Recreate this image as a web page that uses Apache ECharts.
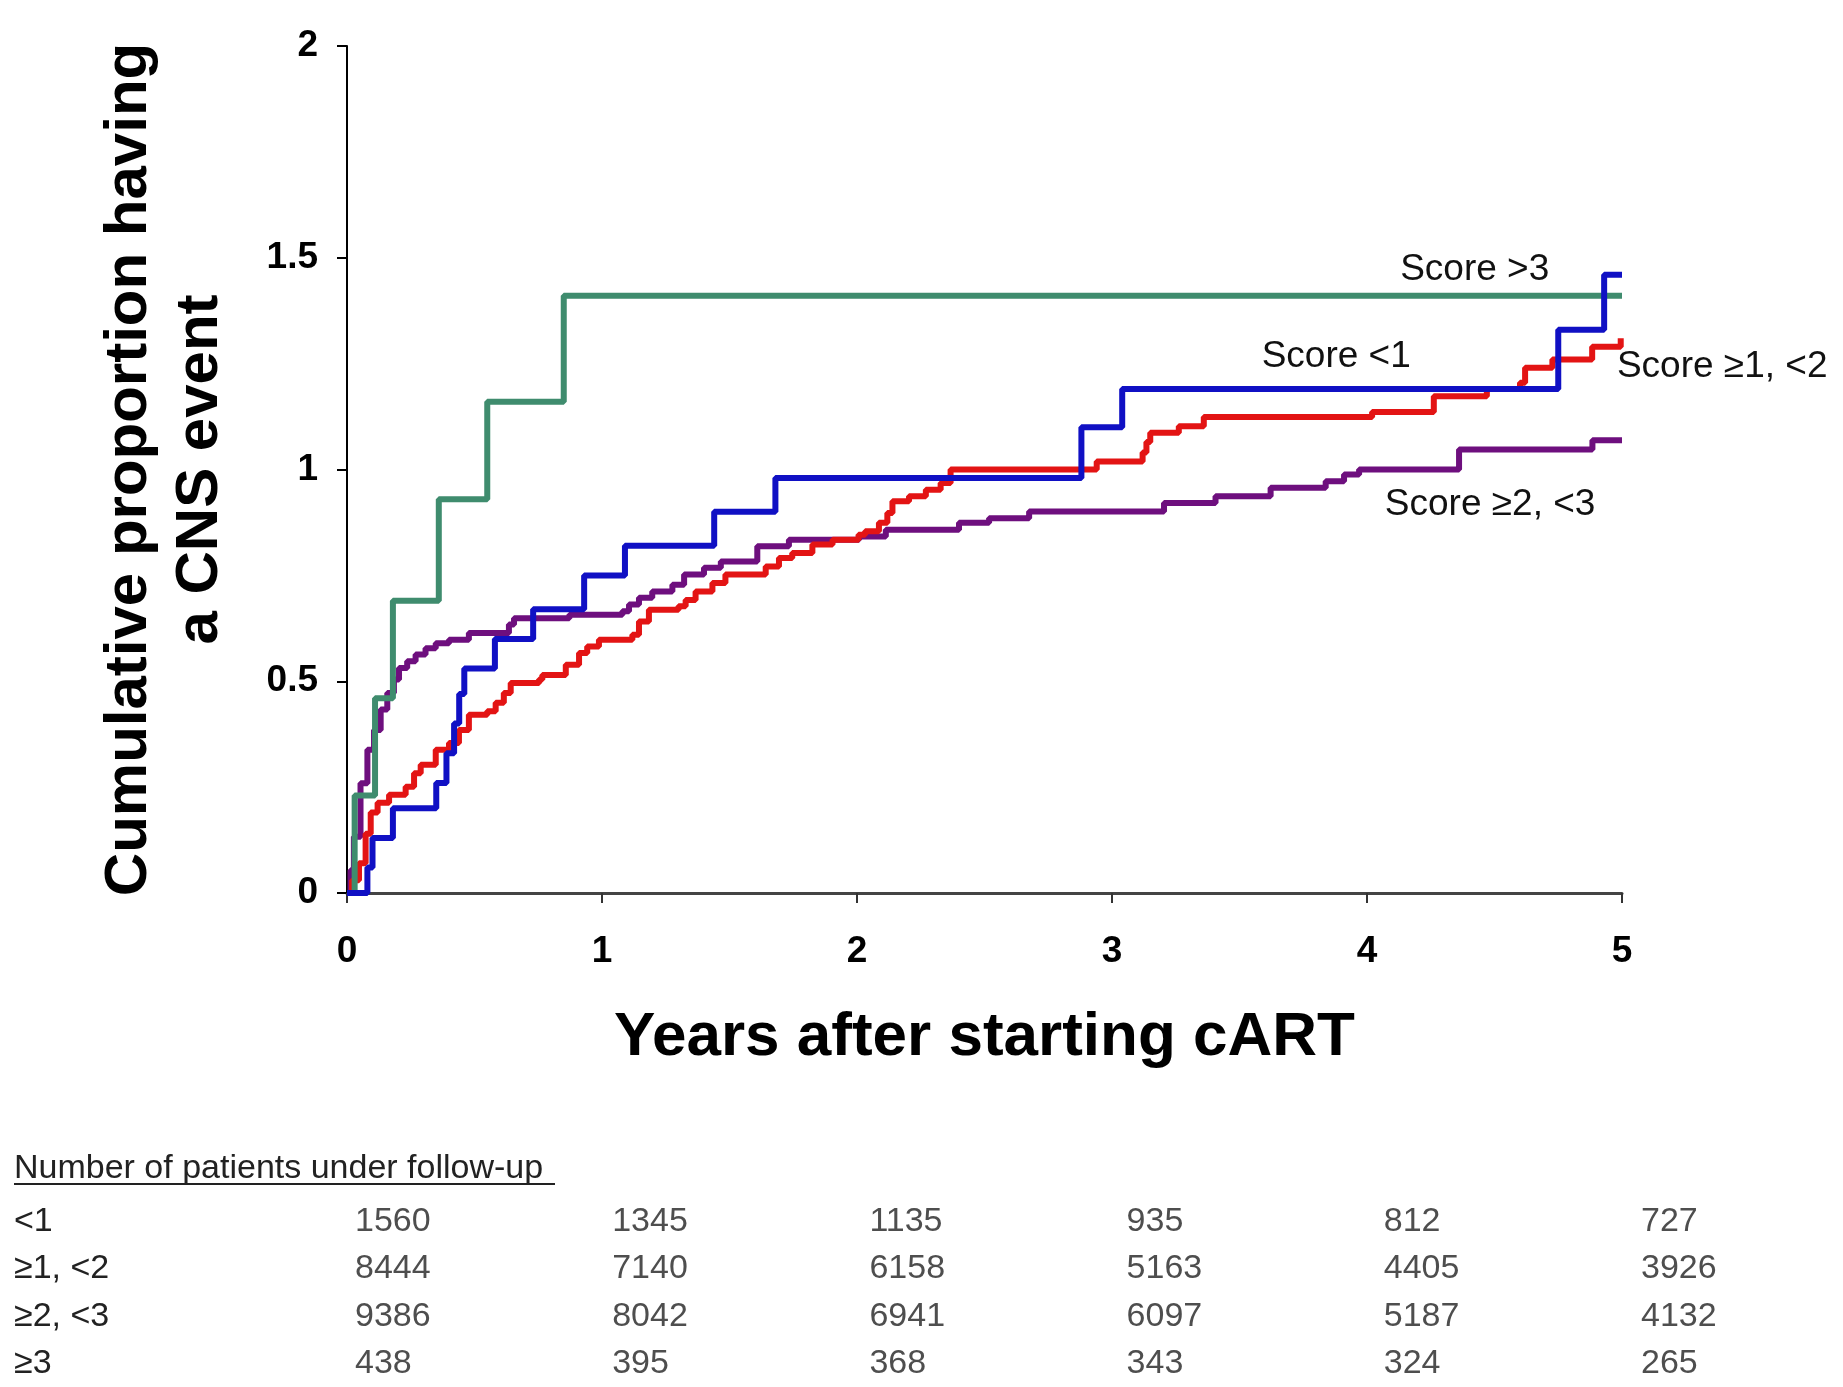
<!DOCTYPE html>
<html>
<head>
<meta charset="utf-8">
<script src="https://cdn.jsdelivr.net/npm/echarts@6/dist/echarts.min.js"></script>
<style>
  html, body { margin: 0; padding: 0; background: #fff; }
  #cns_chart { width: 1843px; height: 1387px; }
</style>
</head>
<body>
<div id="cns_chart"></div>
<script>
// cumulative proportion (%) over years, points are [year, value after step]
const scoreLt1 = [[0,0],[0.08,0.06],[0.10,0.13],[0.18,0.20],[0.35,0.26],[0.39,0.33],[0.42,0.40],[0.44,0.47],[0.46,0.53],[0.58,0.60],[0.73,0.67],[0.93,0.75],[1.09,0.82],[1.44,0.90],[1.68,0.98],[2.88,1.10],[3.04,1.19],[4.75,1.33],[4.93,1.46],[5.0,1.46]];
const score1to2 = [[0,0],[0.02,0.03],[0.047,0.07],[0.073,0.14],[0.093,0.19],[0.12,0.213],[0.165,0.232],[0.23,0.251],[0.263,0.283],[0.289,0.303],[0.348,0.338],[0.40,0.354],[0.439,0.385],[0.478,0.421],[0.55,0.429],[0.583,0.449],[0.615,0.472],[0.642,0.496],[0.753,0.504],[0.766,0.515],[0.858,0.539],[0.91,0.567],[0.942,0.582],[0.988,0.598],[1.119,0.61],[1.145,0.641],[1.184,0.669],[1.30,0.677],[1.328,0.692],[1.367,0.712],[1.433,0.732],[1.484,0.752],[1.642,0.771],[1.694,0.791],[1.746,0.803],[1.825,0.823],[1.904,0.834],[2.006,0.846],[2.032,0.854],[2.086,0.874],[2.119,0.897],[2.139,0.925],[2.204,0.937],[2.27,0.952],[2.328,0.968],[2.367,1.0],[2.94,1.019],[3.12,1.04],[3.135,1.065],[3.15,1.087],[3.262,1.102],[3.36,1.124],[4.02,1.136],[4.262,1.173],[4.47,1.19],[4.60,1.205],[4.62,1.24],[4.727,1.26],[4.883,1.29],[4.995,1.31]];
const score2to3 = [[0,0],[0.014,0.054],[0.027,0.133],[0.053,0.259],[0.08,0.338],[0.106,0.385],[0.132,0.433],[0.158,0.472],[0.184,0.504],[0.204,0.531],[0.236,0.547],[0.269,0.563],[0.308,0.578],[0.348,0.59],[0.40,0.598],[0.478,0.614],[0.635,0.634],[0.655,0.649],[0.872,0.657],[1.08,0.665],[1.106,0.681],[1.145,0.697],[1.197,0.712],[1.276,0.728],[1.322,0.752],[1.40,0.768],[1.466,0.783],[1.609,0.819],[1.733,0.834],[2.008,0.842],[2.113,0.858],[2.40,0.874],[2.518,0.885],[2.675,0.901],[3.204,0.921],[3.406,0.937],[3.622,0.957],[3.838,0.972],[3.91,0.988],[3.969,1.0],[4.361,1.047],[4.884,1.069],[5.0,1.069]];
const scoreGt3 = [[0,0],[0.03,0.23],[0.11,0.46],[0.18,0.69],[0.36,0.93],[0.55,1.16],[0.85,1.41],[5.0,1.41]];

// curve annotations: text and anchor (left edge, middle) in data units
const curveNames = ['Score <1', 'Score \u22651, <2', 'Score \u22652, <3', 'Score >3'];
const curveLabelAt = [[3.587,1.266],[4.98,1.242],[4.07,0.916],[4.13,1.471]];

// number of patients under follow-up
const tableYears = [0, 1, 2, 3, 4, 5];
const rowNames = ['<1', '\u22651, <2', '\u22652, <3', '\u22653'];
const atRiskLt1 = [1560, 1345, 1135, 935, 812, 727];
const atRisk1to2 = [8444, 7140, 6158, 5163, 4405, 3926];
const atRisk2to3 = [9386, 8042, 6941, 6097, 5187, 4132];
const atRiskGe3 = [438, 395, 368, 343, 324, 265];

const font = 'Liberation Sans, Arial, sans-serif';
const chart = echarts.init(document.getElementById('cns_chart'));

function curve(name, data, color, idx, z) {
	return {
		name: name,
		type: 'line',
		step: 'end',
		data: data,
		showSymbol: false,
		z: z,
		lineStyle: {color: color, width: 6},
		markPoint: {
			symbol: 'circle',
			symbolSize: 0,
			silent: true,
			data: [{
				coord: curveLabelAt[idx],
				label: {
					show: true, position: 'right', distance: 0,
					formatter: curveNames[idx],
					color: '#111', fontSize: 37, fontFamily: font
				}
			}]
		}
	};
}

const tableRows = [atRiskLt1, atRisk1to2, atRisk2to3, atRiskGe3];
const tableData = [];
tableRows.forEach((row, r) => {
	row.forEach((n, c) => tableData.push([tableYears[c], r, n]));
});

let option = {
	backgroundColor: '#fff',
	animation: false,
	grid: [
		{left: 347, right: 221, top: 46, bottom: 494},
		{left: 355, right: 202, top: 1198, height: 192}
	],
	xAxis: [
		{
			type: 'value', min: 0, max: 5, interval: 1,
			name: 'Years after starting cART',
			nameLocation: 'middle', nameGap: 114,
			nameTextStyle: {fontSize: 62, fontWeight: 'bold', color: '#000', fontFamily: font},
			axisLine: {lineStyle: {color: '#444', width: 3}},
			axisTick: {length: 10, lineStyle: {color: '#333', width: 2}},
			axisLabel: {margin: 40, fontSize: 37, fontWeight: 'bold', color: '#000', fontFamily: font},
			splitLine: {show: false}
		},
		{gridIndex: 1, type: 'value', min: 0, max: 5, show: false}
	],
	yAxis: [
		{
			type: 'value', min: 0, max: 2, interval: 0.5,
			name: 'Cumulative proportion having\na CNS event',
			nameLocation: 'middle', nameGap: 111, nameRotate: 90,
			nameTextStyle: {fontSize: 60, fontWeight: 'bold', color: '#000', fontFamily: font, lineHeight: 71},
			axisLine: {show: true, lineStyle: {color: '#000', width: 2}},
			axisTick: {show: true, length: 10, lineStyle: {color: '#000', width: 2}},
			axisLabel: {margin: 29, fontSize: 37, fontWeight: 'bold', color: '#000', fontFamily: font},
			splitLine: {show: false}
		},
		{
			gridIndex: 1, type: 'category', inverse: true, data: rowNames,
			axisLine: {show: false}, axisTick: {show: false}, splitLine: {show: false},
			axisLabel: {align: 'left', margin: 341, fontSize: 34, color: '#222', fontFamily: font}
		}
	],
	series: [
		curve('Score >=2, <3', score2to3, '#6e0f7e', 2, 2),
		curve('Score >=1, <2', score1to2, '#e31414', 1, 3),
		curve('Score >3', scoreGt3, '#3f8c6e', 3, 4),
		curve('Score <1', scoreLt1, '#1010c4', 0, 5),
		{
			type: 'scatter', xAxisIndex: 1, yAxisIndex: 1,
			data: tableData, symbolSize: 0, silent: true,
			label: {
				show: true, position: 'right', distance: 0,
				formatter: p => String(p.value[2]),
				fontSize: 34, color: '#222', fontFamily: font
			}
		}
	],
	graphic: [
		{
			type: 'text', left: 14, top: 1152,
			style: {text: 'Number of patients under follow-up', fontSize: 34, fill: '#222', fontFamily: font}
		},
		{
			type: 'line', shape: {x1: 14, y1: 1184, x2: 555, y2: 1184},
			style: {stroke: '#222', lineWidth: 2}
		}
	]
};

option && chart.setOption(option);
</script>
</body>
</html>
